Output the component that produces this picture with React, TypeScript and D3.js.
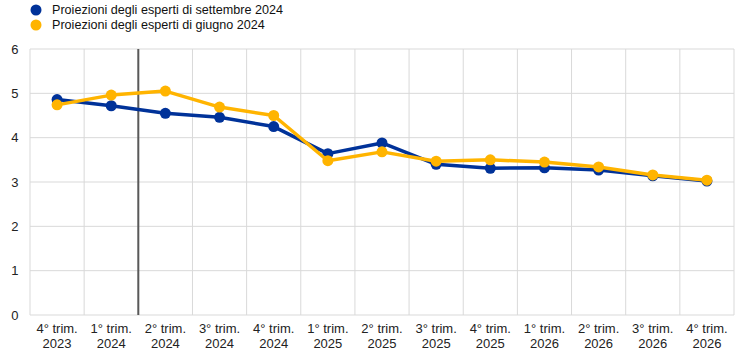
import React from "react";
import * as d3 from "d3";

const categories = [
  ["4° trim.", "2023"], ["1° trim.", "2024"], ["2° trim.", "2024"], ["3° trim.", "2024"],
  ["4° trim.", "2024"], ["1° trim.", "2025"], ["2° trim.", "2025"], ["3° trim.", "2025"],
  ["4° trim.", "2025"], ["1° trim.", "2026"], ["2° trim.", "2026"], ["3° trim.", "2026"],
  ["4° trim.", "2026"],
];
const september = [4.86, 4.72, 4.55, 4.46, 4.25, 3.64, 3.88, 3.40, 3.31, 3.32, 3.27, 3.14, 3.02];
const june = [4.74, 4.96, 5.05, 4.69, 4.50, 3.48, 3.68, 3.47, 3.50, 3.45, 3.34, 3.16, 3.04];
const yTicks = [0, 1, 2, 3, 4, 5, 6];
const seriesNames = ["Proiezioni degli esperti di settembre 2024", "Proiezioni degli esperti di giugno 2024"];
const colors = ["#003299", "#FFB400"];
const markerIndex = 2; // vertical line before this category

export default function App() {
  const W = 745, H = 357;
  const left = 30, right = 734, top = 49, bottom = 315;
  const x = d3.scaleBand<number>().domain(d3.range(categories.length)).range([left, right]);
  const y = d3.scaleLinear().domain([0, 6]).range([bottom, top]);
  const line = d3.line<number>().x((_, i) => x(i)! + x.bandwidth() / 2).y(d => y(d));
  const font = "'Liberation Sans', Arial, sans-serif";
  const series = [september, june];
  return (
    <svg width={W} height={H} style={{ position: "absolute", left: 0, top: 0 }} fontFamily={font}>
      {yTicks.map(t => (
        <g key={t}>
          <line x1={left} x2={right} y1={y(t)} y2={y(t)} stroke="#d9d9d9" strokeWidth={1} />
          <text x={18.5} y={y(t)} dy="0.35em" textAnchor="end" fontSize={13} fill="#222">{t}</text>
        </g>
      ))}
      {d3.range(categories.length + 1).map(i => (
        <line key={i} x1={left + i * x.bandwidth()} x2={left + i * x.bandwidth()} y1={top} y2={bottom} stroke="#d9d9d9" strokeWidth={1} />
      ))}
      <line x1={x(markerIndex)!} x2={x(markerIndex)!} y1={top} y2={bottom} stroke="#595959" strokeWidth={2} />
      {categories.map((c, i) => (
        <text key={i} x={x(i)! + x.bandwidth() / 2} y={333} textAnchor="middle" fontSize={13} fill="#222">
          <tspan x={x(i)! + x.bandwidth() / 2} dy={0}>{c[0]}</tspan>
          <tspan x={x(i)! + x.bandwidth() / 2} dy={15}>{c[1]}</tspan>
        </text>
      ))}
      {series.map((s, k) => (
        <g key={k}>
          <path d={line(s)!} fill="none" stroke={colors[k]} strokeWidth={3.5} strokeLinejoin="round" />
          {s.map((v, i) => (
            <circle key={i} cx={x(i)! + x.bandwidth() / 2} cy={y(v)} r={5.5} fill={colors[k]} />
          ))}
        </g>
      ))}
      {seriesNames.map((n, k) => (
        <g key={k}>
          <circle cx={36} cy={10 + k * 15} r={5.5} fill={colors[k]} />
          <text x={52} y={10 + k * 15} dy="0.35em" fontSize={12.6} fill="#111">{n}</text>
        </g>
      ))}
    </svg>
  );
}
